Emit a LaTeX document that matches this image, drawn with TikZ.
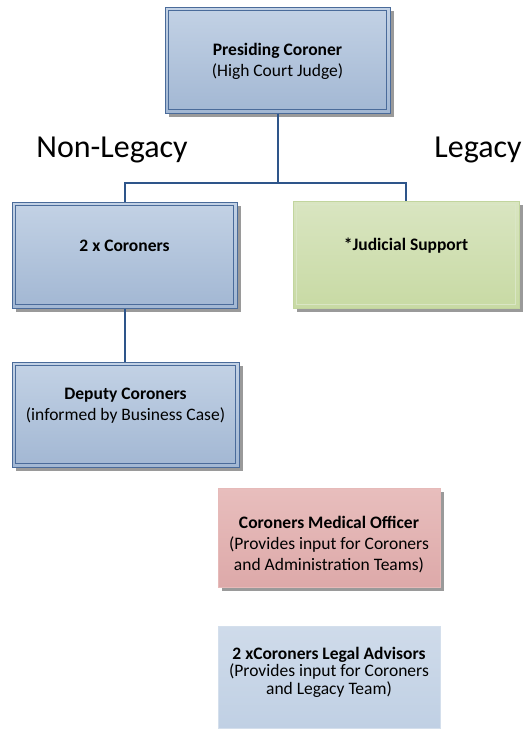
\documentclass[tikz,border=0pt]{standalone}
\usepackage{fontspec}
\setmainfont{Carlito}
\usetikzlibrary{shadows}
\definecolor{bluetop}{HTML}{C3D2E5}
\definecolor{bluebot}{HTML}{A2B7D3}
\definecolor{blueedge}{HTML}{4A6B9A}
\definecolor{linkblue}{HTML}{2E558A}
\definecolor{greentop}{HTML}{D9E5C1}
\definecolor{greenbot}{HTML}{C8DAA4}
\definecolor{greenedge}{HTML}{C2D59E}
\definecolor{pinktop}{HTML}{E8BEBD}
\definecolor{pinkbot}{HTML}{DDA9A9}
\definecolor{legaltop}{HTML}{CFDBEA}
\definecolor{legalbot}{HTML}{C0D0E4}
\definecolor{shadowgray}{HTML}{9A9A9A}
\tikzset{
  x=1pt, y=1pt,
  box/.style={rectangle, inner sep=0pt},
  shade3/.style={drop shadow={shadow xshift=4pt, shadow yshift=-4pt, fill=shadowgray, opacity=1}},
  innerline/.style={path picture={\draw[#1, line width=0.8pt]
      ([shift={(3.5pt,3.5pt)}]path picture bounding box.south west) rectangle
      ([shift={(-3.5pt,-3.5pt)}]path picture bounding box.north east);}},
  bluebox/.style={box, shade3, top color=bluetop, bottom color=bluebot,
      draw=blueedge, line width=1pt, innerline=blueedge},
  greenbox/.style={box, shade3, top color=greentop, bottom color=greenbot,
      draw=greenedge, line width=0.8pt, innerline={greenedge!60}},
  pinkbox/.style={box, shade3, top color=pinktop, bottom color=pinkbot,
      draw=pinktop!80!pinkbot, line width=0.6pt},
  legalbox/.style={box, top color=legaltop, bottom color=legalbot,
      draw=legaltop!90!white, line width=0.6pt},
  txt/.style={align=center, font=\fontsize{17.5}{21}\selectfont, inner sep=0pt},
  txttight/.style={txt, font=\fontsize{17.5}{17.5}\selectfont},
  side/.style={font=\fontsize{32}{36}\selectfont, inner sep=0pt},
  link/.style={draw=linkblue, line width=2pt},
}
\begin{document}
\begin{tikzpicture}
\useasboundingbox (0,0) rectangle (527,-734);

% boxes
\node[bluebox, minimum width=225pt, minimum height=106pt] (top) at (277.5,-60) {};
\node[bluebox, minimum width=225pt, minimum height=106pt] (coron) at (124.5,-255) {};
\node[greenbox, minimum width=226pt, minimum height=107pt] (jud) at (406,-254.5) {};
\node[bluebox, minimum width=227pt, minimum height=105pt] (deputy) at (125.5,-414.5) {};
\node[pinkbox, minimum width=222pt, minimum height=99pt] (medical) at (329,-537.5) {};
\node[legalbox, minimum width=222pt, minimum height=102pt] (legal) at (329,-677) {};

% box texts
\node[txt] (top-t) at (277.5,-61) {\textbf{Presiding Coroner}\\(High Court Judge)};
\node[txt] (coron-t) at (124.5,-246) {\textbf{2 x Coroners}};
\node[txt] (jud-t) at (406,-246) {\textbf{*Judicial Support}};
\node[txt] (deputy-t) at (125.5,-406) {\textbf{Deputy Coroners}\\(informed by Business Case)};
\node[txt] (medical-t) at (329,-545) {\textbf{Coroners Medical Officer}\\(Provides input for Coroners\\and Administration Teams)};
\node[txttight] (legal-t) at (329,-672) {\textbf{2 xCoroners Legal Advisors}\\(Provides input for Coroners\\and Legacy Team)};

% side headings
\node[side] (nonleg) at (112,-150) {Non-Legacy};
\node[side] (leg) at (478,-150) {Legacy};

% connectors
\coordinate (fork) at (277.5,-183);
\draw[link] (top.south) -- (fork);
\draw[link] (coron.north) |- (fork) -| (jud.north);
\draw[link] (coron.south) -- (deputy.north -| coron.south);
\end{tikzpicture}
\end{document}
